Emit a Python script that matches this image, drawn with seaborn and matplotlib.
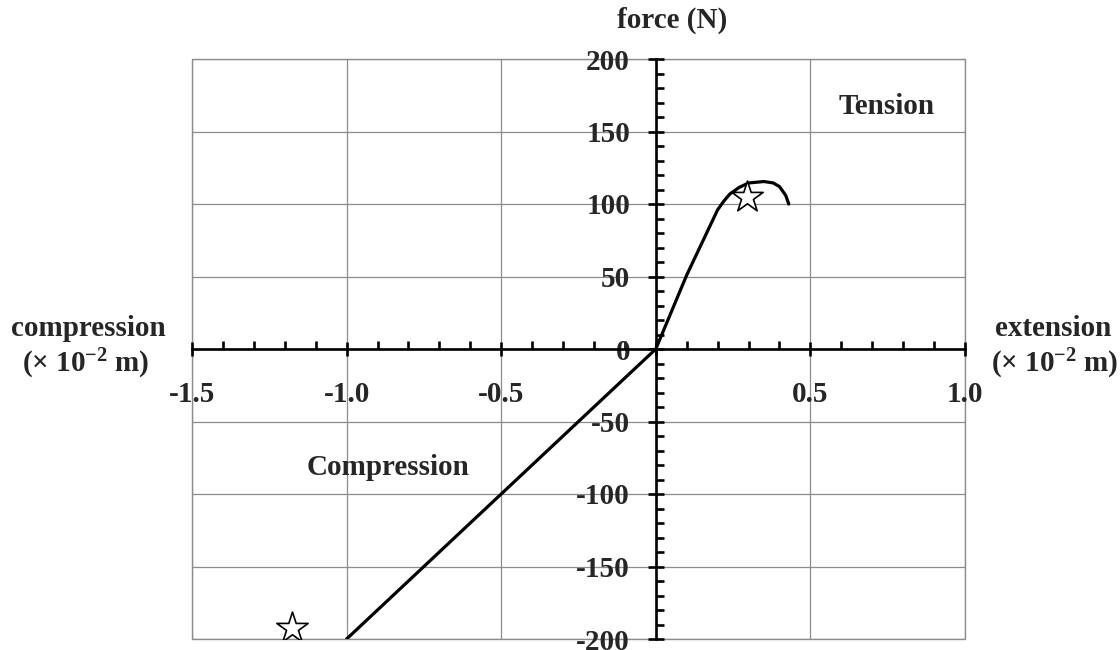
import numpy as np
import pandas as pd
import matplotlib
matplotlib.use("Agg")
import matplotlib.pyplot as plt
import seaborn as sns
from matplotlib.ticker import MultipleLocator, FixedLocator, FixedFormatter
from matplotlib.patches import Rectangle

# ---- data ----
ext = [-1.0, 0.0, 0.1, 0.2, 0.22, 0.24, 0.27, 0.30, 0.35, 0.38, 0.40, 0.42, 0.43]
force = [-200, 0, 51, 96, 102, 107, 111.5, 114.5, 115.5, 114.5, 112, 106, 100]
star_x = [0.294, -1.177]
star_y = [104.8, -192.5]
x_ticks = [-1.5, -1.0, -0.5, 0.0, 0.5, 1.0]
x_labels = ["-1.5", "-1.0", "-0.5", "", "0.5", "1.0"]
y_ticks = [200, 150, 100, 50, 0, -50, -100, -150, -200]
y_labels = ["200", "150", "100", "50", "0", "-50", "-100", "-150", "-200"]

sns.set_style("white")
plt.rcParams['font.family'] = ['Liberation Serif', 'DejaVu Serif']
plt.rcParams['font.weight'] = 'bold'
plt.rcParams['mathtext.fontset'] = 'custom'
plt.rcParams['mathtext.rm'] = 'Liberation Serif:bold'
plt.rcParams['mathtext.default'] = 'rm'

FS = 21
GRID = '#8c8c8c'

fig = plt.figure(figsize=(11.2, 6.5), dpi=100)
ax = fig.add_axes([192/1120, 1-639/650, (965-192)/1120, (639-59)/650])

df = pd.DataFrame({"ext": ext, "force": force})
sns.lineplot(data=df, x="ext", y="force", sort=False, estimator=None,
             color='black', lw=2.3, ax=ax, zorder=4)
sns.scatterplot(x=star_x, y=star_y, marker='*', s=560, facecolor='white',
                edgecolor='black', linewidth=1.2, ax=ax, zorder=5)

ax.set_xlim(-1.5, 1.0)
ax.set_ylim(-200, 200)

ax.xaxis.set_major_locator(FixedLocator(x_ticks))
ax.xaxis.set_major_formatter(FixedFormatter(x_labels))
ax.xaxis.set_minor_locator(MultipleLocator(0.1))
ax.yaxis.set_major_locator(FixedLocator(y_ticks))
ax.yaxis.set_major_formatter(FixedFormatter(y_labels))
ax.yaxis.set_minor_locator(MultipleLocator(10))

ax.grid(True, which='major', color=GRID, lw=0.9, zorder=0)
ax.grid(False, which='minor')

for s in ['left', 'bottom']:
    ax.spines[s].set_position(('data', 0))
    ax.spines[s].set_color('black')
    ax.spines[s].set_linewidth(1.9)
    ax.spines[s].set_zorder(3)
for s in ['top', 'right']:
    ax.spines[s].set_visible(False)
ax.add_patch(Rectangle((0, 0), 1, 1, transform=ax.transAxes, fill=False,
                       ec=GRID, lw=1.0, clip_on=False, zorder=0.5))

ax.tick_params(which='both', bottom=True, left=True, top=False, right=False)
ax.tick_params(axis='x', which='major', direction='inout', length=10, width=1.9,
               pad=18, labelsize=FS, color='black')
ax.tick_params(axis='x', which='minor', direction='in', length=5.5, width=1.9,
               color='black')
ax.tick_params(axis='y', which='major', direction='inout', length=11, width=1.9,
               pad=13, labelsize=FS, color='black')
ax.tick_params(axis='y', which='minor', direction='in', length=5.5, width=1.9,
               color='black')
for lab in ax.get_xticklabels() + ax.get_yticklabels():
    lab.set_fontweight('bold')

ax.set_xlabel("")
ax.set_ylabel("")

ax.text(0.747, 167, "Tension", fontsize=FS, fontweight='bold', ha='center', va='center')
ax.text(-0.866, -82, "Compression", fontsize=FS, fontweight='bold', ha='center', va='center')

fig.text(672/1120, 1-20/650, "force (N)", fontsize=FS, fontweight='bold', ha='center', va='center')
fig.text(88/1120, 1-328/650, "compression", fontsize=FS, fontweight='bold', ha='center', va='center')
fig.text(86/1120, 1-364/650, r"(× 10$^{-2}$ m)", fontsize=FS, fontweight='bold', ha='center', va='center')
fig.text(1053/1120, 1-328/650, "extension", fontsize=FS, fontweight='bold', ha='center', va='center')
fig.text(1055/1120, 1-364/650, r"(× 10$^{-2}$ m)", fontsize=FS, fontweight='bold', ha='center', va='center')

fig.savefig("out.png", dpi=100, facecolor='white')
